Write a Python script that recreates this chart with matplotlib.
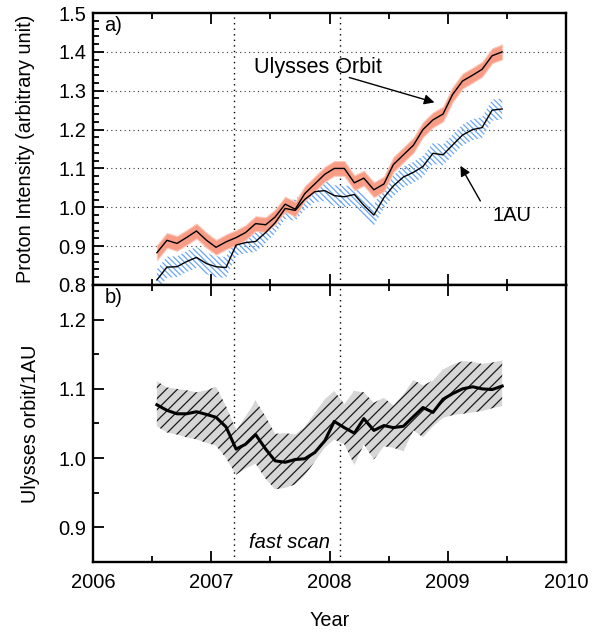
import matplotlib
matplotlib.use("Agg")
import matplotlib.pyplot as plt
import numpy as np
from matplotlib.ticker import MultipleLocator, FormatStrFormatter

plt.rcParams['font.family'] = ['Liberation Sans', 'DejaVu Sans']
plt.rcParams['hatch.linewidth'] = 0.9

# ---- data (monthly) ----
years = [2006.54, 2006.625, 2006.71, 2006.79, 2006.875, 2006.96, 2007.04, 2007.125,
         2007.21, 2007.29, 2007.375, 2007.46, 2007.54, 2007.625, 2007.71, 2007.79,
         2007.875, 2007.96, 2008.04, 2008.125, 2008.21, 2008.29, 2008.375, 2008.46,
         2008.54, 2008.625, 2008.71, 2008.79, 2008.875, 2008.96, 2009.04, 2009.125,
         2009.21, 2009.29, 2009.375, 2009.46]

ulysses = [0.883, 0.915, 0.907, 0.922, 0.939, 0.915, 0.897, 0.911,
           0.922, 0.935, 0.958, 0.955, 0.975, 1.008, 0.995, 1.035,
           1.060, 1.085, 1.100, 1.100, 1.063, 1.075, 1.045, 1.060,
           1.110, 1.135, 1.160, 1.200, 1.225, 1.240, 1.290, 1.325,
           1.340, 1.355, 1.390, 1.400]
ulysses_err = 0.019

one_au = [0.813, 0.846, 0.847, 0.860, 0.871, 0.855, 0.847, 0.845,
          0.903, 0.909, 0.912, 0.935, 0.960, 0.997, 0.992, 1.020,
          1.040, 1.043, 1.030, 1.027, 1.033, 1.005, 0.980, 1.025,
          1.055, 1.078, 1.090, 1.105, 1.139, 1.135, 1.160, 1.186,
          1.200, 1.205, 1.250, 1.253]
one_au_err = 0.027

ratio = [1.077, 1.069, 1.064, 1.064, 1.067, 1.063, 1.059, 1.045,
         1.013, 1.020, 1.034, 1.013, 0.996, 0.994, 0.998, 0.999,
         1.008, 1.025, 1.053, 1.044, 1.036, 1.057, 1.040, 1.047,
         1.044, 1.046, 1.060, 1.073, 1.066, 1.085, 1.093, 1.100,
         1.103, 1.100, 1.099, 1.104]
ratio_upper = [1.111, 1.102, 1.100, 1.098, 1.095, 1.098, 1.103, 1.075,
               1.040, 1.060, 1.083, 1.060, 1.035, 1.036, 1.034, 1.045,
               1.065, 1.085, 1.097, 1.078, 1.097, 1.095, 1.080, 1.087,
               1.076, 1.092, 1.113, 1.105, 1.112, 1.128, 1.135, 1.140,
               1.139, 1.136, 1.138, 1.141]
ratio_lower = [1.046, 1.037, 1.034, 1.030, 1.027, 1.022, 1.018, 1.000,
               0.976, 0.985, 0.992, 0.970, 0.955, 0.957, 0.962, 0.975,
               0.995, 1.015, 1.027, 1.020, 0.990, 1.020, 0.998, 1.017,
               1.015, 1.010, 1.040, 1.030, 1.046, 1.058, 1.062, 1.064,
               1.066, 1.068, 1.072, 1.075]

fast_scan = [2007.19, 2008.09]

x = np.array(years)
u = np.array(ulysses)
a = np.array(one_au)

fig = plt.figure(figsize=(6.10, 6.35), dpi=100)
ax1 = fig.add_axes([0.1525, 0.5512, 0.7754, 0.4283])
ax2 = fig.add_axes([0.1525, 0.1150, 0.7754, 0.4362])

# ---- top panel ----
ax1.fill_between(x, a - one_au_err, a + one_au_err, facecolor='none',
                 edgecolor='#6aa6f2', hatch='\\\\\\\\\\\\', linewidth=0, zorder=2)
ax1.fill_between(x, u - ulysses_err, u + ulysses_err, facecolor='#f89c86',
                 edgecolor='#fbc9bb', linewidth=0.8, zorder=3)
ax1.plot(x, u, color='black', lw=1.0, zorder=4)
ax1.plot(x, a, color='black', lw=1.0, zorder=4)

for yv in [0.9, 1.0, 1.1, 1.2, 1.3, 1.4]:
    ax1.axhline(yv, color='#333333', ls=(0, (1, 3)), lw=0.8, zorder=1)
for xv in fast_scan:
    ax1.axvline(xv, color='black', ls=(0, (1, 3)), lw=1.0, zorder=1)
    ax2.axvline(xv, color='black', ls=(0, (1, 3)), lw=1.0, zorder=1)

ax1.set_xlim(2006, 2010)
ax1.set_ylim(0.8, 1.5)
ax1.yaxis.set_major_locator(MultipleLocator(0.1))
ax1.yaxis.set_minor_locator(MultipleLocator(0.02))
ax1.xaxis.set_major_locator(MultipleLocator(1))
ax1.xaxis.set_minor_locator(MultipleLocator(0.5))
ax1.set_xticklabels([])
ax1.yaxis.set_major_formatter(FormatStrFormatter('%.1f'))
ax1.set_ylabel('Proton Intensity (arbitrary unit)', fontsize=14.3)
ax1.yaxis.set_label_coords(-0.123, 0.5)

ax1.annotate('', xy=(2008.91, 1.268), xytext=(2008.145, 1.336),
             arrowprops=dict(arrowstyle='-|>', color='black', lw=1.0,
                             mutation_scale=15))
ax1.text(2007.90, 1.361, 'Ulysses Orbit', fontsize=15.5, ha='center', va='center')
ax1.annotate('', xy=(2009.095, 1.113), xytext=(2009.287, 1.010),
             arrowprops=dict(arrowstyle='-|>', color='black', lw=1.0,
                             mutation_scale=15))
ax1.text(2009.38, 0.98, '1AU', fontsize=14.5, ha='left', va='center')
ax1.text(0.024, 0.955, 'a)', transform=ax1.transAxes, fontsize=14.5,
         ha='left', va='center')

# ---- bottom panel ----
ax2.fill_between(x, ratio_lower, ratio_upper, facecolor='#d6d6d6',
                 edgecolor='#1a1a1a', hatch='///', linewidth=0, zorder=2)
ax2.plot(x, ratio, color='black', lw=2.2, zorder=4)

ax2.set_xlim(2006, 2010)
ax2.set_ylim(0.85, 1.25)
ax2.yaxis.set_major_locator(MultipleLocator(0.1))
ax2.yaxis.set_minor_locator(MultipleLocator(0.05))
ax2.xaxis.set_major_locator(MultipleLocator(1))
ax2.xaxis.set_minor_locator(MultipleLocator(0.5))
ax2.yaxis.set_major_formatter(FormatStrFormatter('%.1f'))
ax2.xaxis.set_major_formatter(FormatStrFormatter('%d'))
ax2.set_ylabel('Ulysses orbit/1AU', fontsize=14.3)
ax2.yaxis.set_label_coords(-0.112, 0.5)
ax2.set_xlabel('Year', fontsize=14.3)
ax2.xaxis.set_label_coords(0.5, -0.178)
ax2.text(0.024, 0.955, 'b)', transform=ax2.transAxes, fontsize=14.5,
         ha='left', va='center')
ax2.text(2007.66, 0.8775, 'fast scan', fontsize=14.5, style='italic',
         ha='center', va='center')

for ax in (ax1, ax2):
    for s in ax.spines.values():
        s.set_linewidth(1.7)
    ax.tick_params(which='both', direction='in', top=True, right=False,
                   labelsize=14.5, width=1.3)
    ax.tick_params(which='major', length=8, pad=5)
    ax.tick_params(which='minor', length=4)
ax2.tick_params(axis='x', which='major', pad=8)

fig.savefig('out.png', dpi=100)
